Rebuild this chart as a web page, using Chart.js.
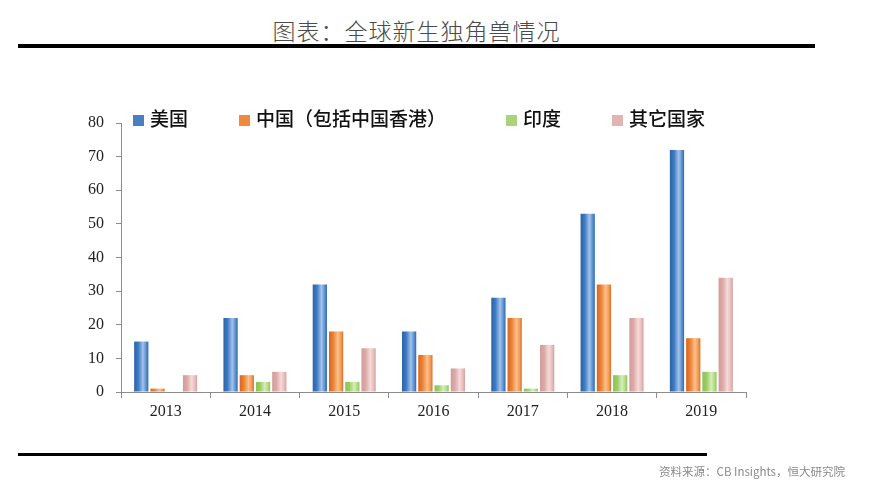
<!DOCTYPE html>
<html>
<head>
<meta charset="utf-8">
<script src="https://cdn.jsdelivr.net/npm/chart.js@4.4.1/dist/chart.umd.min.js"></script>
<style>
  html, body { margin: 0; padding: 0; background: #fff; }
  body { width: 870px; height: 493px; position: relative; overflow: hidden; }
  #wrap { position: absolute; left: 0; top: 0; width: 870px; height: 493px; }
  .title {
    position: absolute; left: 18px; width: 797px; top: 13px;
    text-align: center; font: 300 23px "Noto Sans CJK SC", sans-serif; color: #4a4a4a;
    letter-spacing: 1px;
  }
  .rule { position: absolute; background: #000; }
  .source {
    position: absolute; right: 25px; top: 463px;
    font: 11.5px "Noto Sans CJK SC", sans-serif; color: #8a8a8a;
  }
  .legend-item {
    position: absolute; top: 104px; height: 26px; line-height: 26px;
    font: 500 19px "Noto Sans CJK SC", sans-serif; color: #111; white-space: nowrap;
  }
  .legend-item i {
    display: inline-block; width: 11px; height: 11px; margin-right: 6px;
    vertical-align: 0px;
  }
</style>
</head>
<body>
<div class="title">图表：全球新生独角兽情况</div>
<div class="rule" style="left:18px; top:44px; width:797px; height:4px;"></div>
<div id="wrap"><canvas id="chart"></canvas></div>
<div id="legend"></div>
<div class="rule" style="left:18px; top:453px; width:689px; height:3px;"></div>
<div class="source">资料来源：CB Insights，恒大研究院</div>

<script>
// --- Data -------------------------------------------------------------------------------------
const years = ['2013', '2014', '2015', '2016', '2017', '2018', '2019']
const usa = [15, 22, 32, 18, 28, 53, 72]
const china = [1, 5, 18, 11, 22, 32, 16]
const india = [0, 3, 3, 2, 1, 5, 6]
const others = [5, 6, 13, 7, 14, 22, 34]
const seriesNames = ['美国', '中国（包括中国香港）', '印度', '其它国家']

// --- Styles -----------------------------------------------------------------------------------
// flat colour for the legend boxes, gradient stops for the bars (dark edge -> highlight -> edge)
const flatColors = ['#4a7fc2', '#ef8a3e', '#a8d47a', '#e2b4b2']
const legendLeft = [133, 239, 506, 612]
const barStops = [
    [[0, '#2a62a6'], [0.3, '#3f7cc4'], [0.62, '#a3c3ea'], [0.85, '#5a8fce'], [1, '#2f68ad']],
    [[0, '#d8661c'], [0.3, '#ec8236'], [0.62, '#fcc08c'], [0.85, '#f19a55'], [1, '#dc6d24']],
    [[0, '#8ac255'], [0.3, '#9ccd68'], [0.62, '#d6efb9'], [0.85, '#b0da84'], [1, '#90c65c']],
    [[0, '#d29b99'], [0.3, '#dcaaa8'], [0.62, '#f5dbd9'], [0.85, '#e6bdbb'], [1, '#d4a09e']]
]

// Paint each bar with a horizontal gradient based on its own position
const gradientBars = {
    id: 'gradientBars',
    beforeDatasetsDraw(chart) {
        const ctx = chart.ctx
        chart.data.datasets.forEach((ds, i) => {
            const meta = chart.getDatasetMeta(i)
            meta.data.forEach(bar => {
                const left = bar.x - bar.width / 2
                const g = ctx.createLinearGradient(left, 0, left + bar.width, 0)
                barStops[i].forEach(s => g.addColorStop(s[0], s[1]))
                bar.options = Object.assign({}, bar.options, { backgroundColor: g })
            })
        })
    }
}

// Legend as plain html (the legend row has wide, uneven gaps)
const legendDiv = document.getElementById('legend')
seriesNames.forEach((name, i) => {
    const item = document.createElement('div')
    item.className = 'legend-item'
    item.style.left = legendLeft[i] + 'px'
    item.innerHTML = `<i style="background:${flatColors[i]}"></i>${name}`
    legendDiv.appendChild(item)
})

const axisColor = '#8c8c8c'
const tickFont = { family: '"Liberation Serif", serif', size: 16 }

new Chart(document.getElementById('chart'), {
    type: 'bar',
    data: {
        labels: years,
        datasets: [usa, china, india, others].map((values, i) => ({
            label: seriesNames[i],
            data: values,
            backgroundColor: flatColors[i],
            borderWidth: 0,
            categoryPercentage: 0.728,
            barPercentage: 0.877
        }))
    },
    options: {
        responsive: true,
        maintainAspectRatio: false,
        animation: false,
        layout: { padding: { left: 87, right: 124, top: 123, bottom: 61 } },
        plugins: {
            legend: { display: false },
            tooltip: { enabled: false }
        },
        scales: {
            x: {
                grid: { display: true, drawOnChartArea: false, drawTicks: true, tickLength: 6, color: axisColor, offset: true },
                border: { color: axisColor },
                ticks: { color: '#222', font: tickFont, padding: 4 },
                afterFit: scale => { scale.height = 40 }
            },
            y: {
                min: 0,
                max: 80,
                grid: { display: true, drawOnChartArea: false, drawTicks: true, tickLength: 5, color: axisColor },
                border: { color: axisColor },
                ticks: { stepSize: 10, color: '#222', font: tickFont, padding: 12 },
                afterFit: scale => { scale.width = 34 }
            }
        }
    },
    plugins: [gradientBars]
})
</script>
</body>
</html>
